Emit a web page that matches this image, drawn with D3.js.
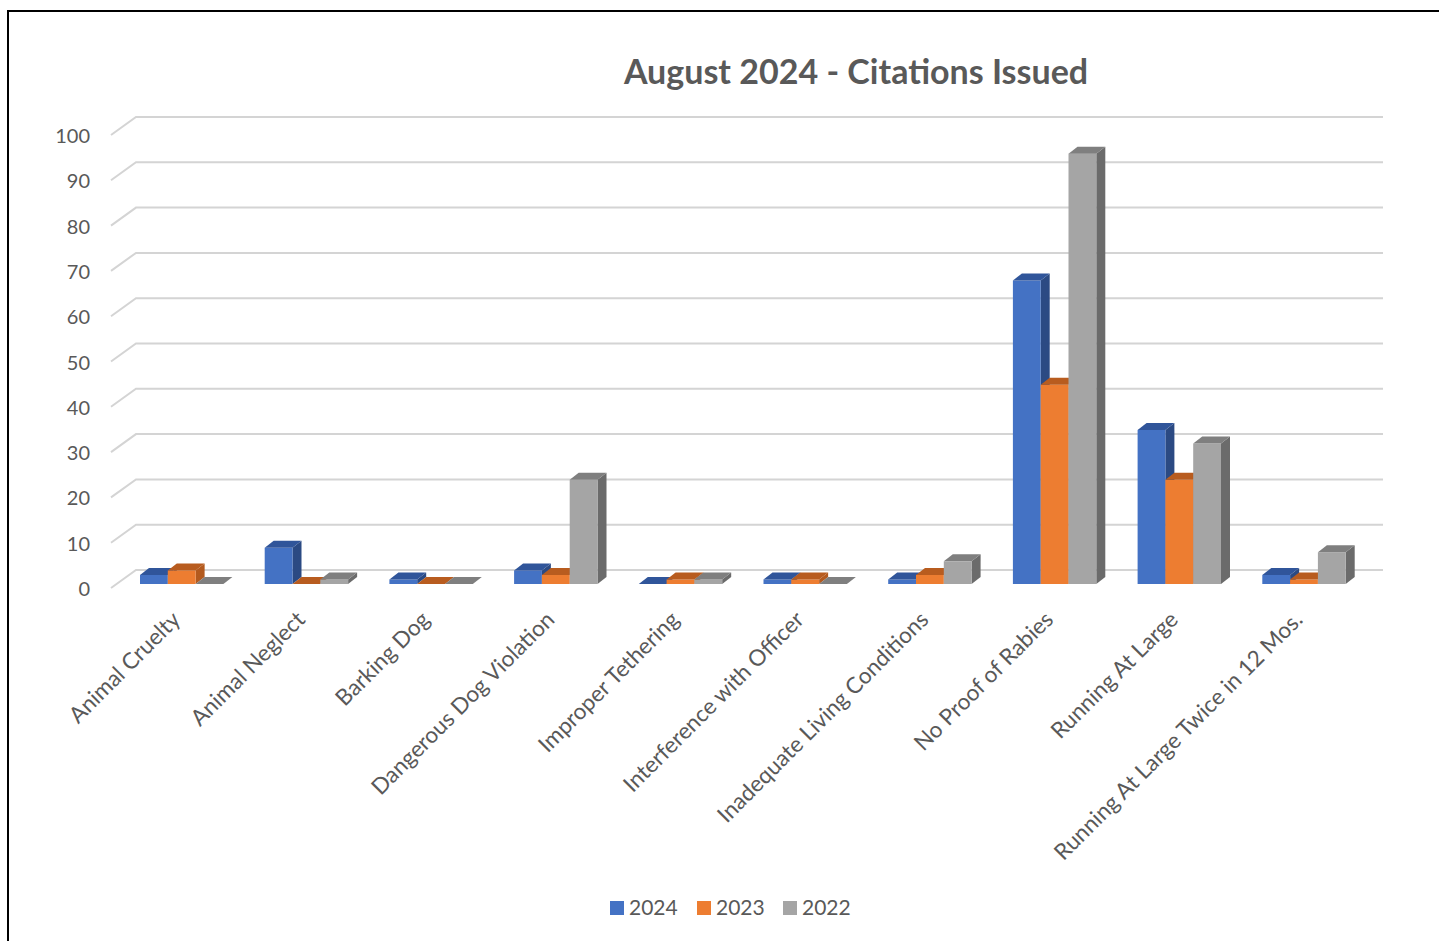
<!DOCTYPE html>
<html>
<head>
<meta charset="utf-8">
<script src="https://cdn.jsdelivr.net/npm/d3@7"></script>
<style>
  html, body { margin: 0; padding: 0; background: #fff; }
  svg { display: block; }
  text { font-family: Lato, "Open Sans", sans-serif; fill: #595959; }
</style>
</head>
<body>
<svg id="chart" width="1439" height="941"></svg>
<script>
const categories = [
  "Animal Cruelty", "Animal Neglect", "Barking Dog", "Dangerous Dog Violation",
  "Improper Tethering", "Interference with Officer", "Inadequate Living Conditions",
  "No Proof of Rabies", "Running At Large", "Running At Large Twice in 12 Mos."
];
const seriesNames = ["2024", "2023", "2022"];
const values2024 = [2, 8, 1, 3, 0, 1, 1, 67, 34, 2];
const values2023 = [3, 0, 0, 2, 1, 1, 2, 44, 23, 1];
const values2022 = [0, 1, 0, 23, 1, 0, 5, 95, 31, 7];
const yTicks = [0, 10, 20, 30, 40, 50, 60, 70, 80, 90, 100];
const title = "August 2024 - Citations Issued";

const seriesValues = [values2024, values2023, values2022];
const colors = [
  { front: "#4472C4", top: "#30559A", side: "#2B4A83" },
  { front: "#ED7D31", top: "#B85C1F", side: "#B35A1E" },
  { front: "#A5A5A5", top: "#7F7F7F", side: "#6B6B6B" }
];

const svg = d3.select("#chart");
svg.append("rect").attr("width", 1439).attr("height", 941).attr("fill", "#fff");

// frame
svg.append("path").attr("d", "M8,941 V11 H1439")
  .attr("fill", "none").attr("stroke", "#000").attr("stroke-width", 2);

// geometry
const frontLeft = 111, frontRight = 1358;
const depthX = 25, depthY = -18;
const y = d3.scaleLinear().domain([0, 100]).range([588, 135]);
const x = d3.scaleBand().domain(categories).range([frontLeft, frontRight]);
const barW = 27.8;
const groupOffset = 29;
const xs = d3.scaleBand().domain(seriesNames).range([0, barW * 3]);
const barBase = 584;           // front face baseline of bars (inside the depth)
const barShiftY = barBase - y(0);
const bdx = 9, bdy = -7;       // bar depth

// title
svg.append("text").attr("x", 856).attr("y", 84)
  .attr("text-anchor", "middle")
  .style("font-size", "34px").style("font-weight", "bold")
  .text(title);

// gridlines (back wall + left side diagonal)
const grid = svg.append("g");
yTicks.forEach(t => {
  const yf = y(t);
  grid.append("path")
    .attr("d", `M${frontLeft},${yf} L${frontLeft + depthX},${yf + depthY} L${frontRight + depthX},${yf + depthY}`)
    .attr("fill", "none").attr("stroke", "#D4D4D4").attr("stroke-width", 2);
});

// y axis labels
svg.append("g").selectAll("text").data(yTicks).join("text")
  .attr("x", 90).attr("y", d => y(d) + 1)
  .attr("dy", "0.35em")
  .attr("text-anchor", "end")
  .style("font-size", "20px")
  .text(d => d);

// bars
const bars = svg.append("g");
categories.forEach((c, i) => {
  seriesNames.forEach((s, k) => {
    const v = seriesValues[k][i];
    const col = colors[k];
    const x0 = x(c) + groupOffset + xs(s);
    const x1 = x0 + barW;
    const yb = y(0) + barShiftY;
    const yt = y(v) + barShiftY;
    const g = bars.append("g");
    if (v > 0) {
      g.append("path")
        .attr("d", `M${x1},${yt} L${x1 + bdx},${yt + bdy} L${x1 + bdx},${yb + bdy} L${x1},${yb} Z`)
        .attr("fill", col.side);
      g.append("rect").attr("x", x0).attr("y", yt)
        .attr("width", barW).attr("height", yb - yt)
        .attr("fill", col.front);
    }
    g.append("path")
      .attr("d", `M${x0},${yt} L${x0 + bdx},${yt + bdy} L${x1 + bdx},${yt + bdy} L${x1},${yt} Z`)
      .attr("fill", col.top);
  });
});

// category labels
svg.append("g").selectAll("text").data(categories).join("text")
  .attr("transform", d => `translate(${x(d) + groupOffset + barW * 1.5},621) rotate(-45)`)
  .attr("text-anchor", "end")
  .style("font-size", "22.5px")
  .text(d => d);

// legend
const legend = svg.append("g");
const legendX = [610, 697, 783];
seriesNames.forEach((s, k) => {
  legend.append("rect").attr("x", legendX[k]).attr("y", 901)
    .attr("width", 14).attr("height", 14).attr("fill", colors[k].front);
  legend.append("text").attr("x", legendX[k] + 19).attr("y", 915)
    .style("font-size", "21px").text(s);
});
</script>
</body>
</html>
